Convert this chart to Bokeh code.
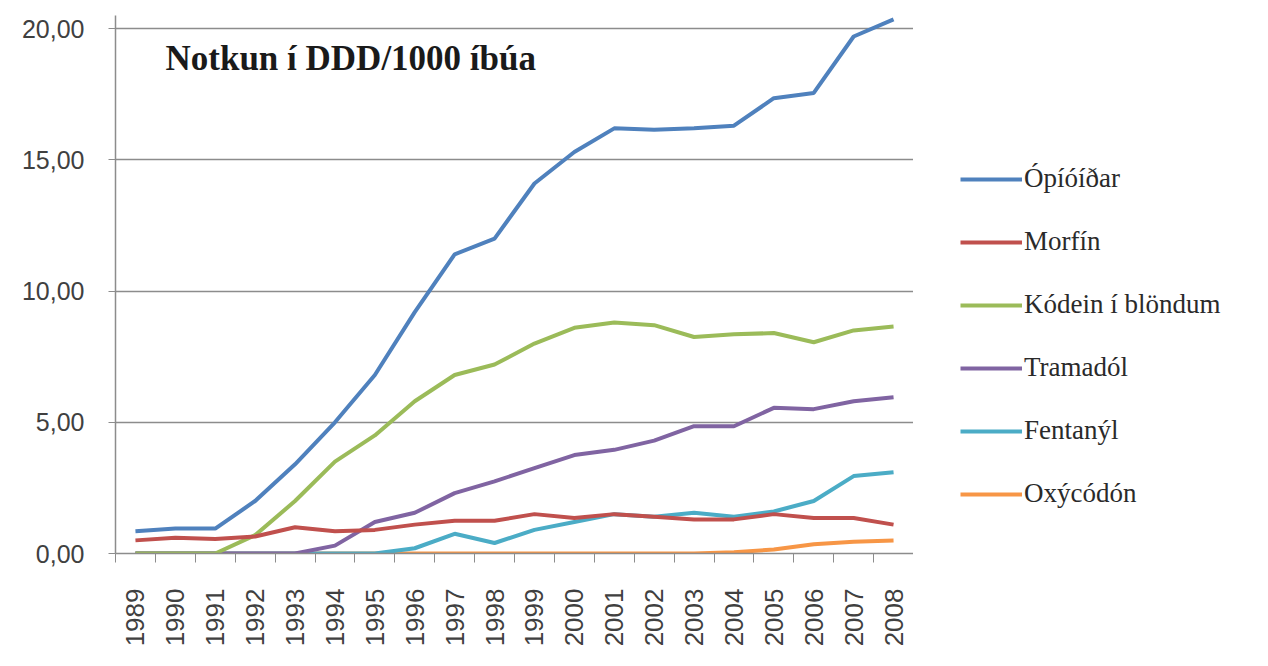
import math
from bokeh.plotting import figure
from bokeh.layouts import row
from bokeh.models import Range1d, FixedTicker, Legend, LegendItem, Label
from bokeh.embed import file_html
from bokeh.resources import INLINE

years = list(range(1989, 2009))
year_labels = [str(y) for y in years]

opioidar = [0.85, 0.95, 0.95, 2.0, 3.4, 5.0, 6.8, 9.2, 11.4, 12.0, 14.1, 15.3, 16.2, 16.15, 16.2, 16.3, 17.35, 17.55, 19.7, 20.35]
morfin = [0.5, 0.6, 0.55, 0.65, 1.0, 0.85, 0.9, 1.1, 1.25, 1.25, 1.5, 1.35, 1.5, 1.4, 1.3, 1.3, 1.5, 1.35, 1.35, 1.1]
kodein = [0.0, 0.0, 0.0, 0.7, 2.0, 3.5, 4.5, 5.8, 6.8, 7.2, 8.0, 8.6, 8.8, 8.7, 8.25, 8.35, 8.4, 8.05, 8.5, 8.65]
tramadol = [0.0, 0.0, 0.0, 0.0, 0.0, 0.3, 1.2, 1.55, 2.3, 2.75, 3.25, 3.75, 3.95, 4.3, 4.85, 4.85, 5.55, 5.5, 5.8, 5.95]
fentanyl = [0.0, 0.0, 0.0, 0.0, 0.0, 0.0, 0.0, 0.2, 0.75, 0.4, 0.9, 1.2, 1.5, 1.4, 1.55, 1.4, 1.6, 2.0, 2.95, 3.1]
oxycodon = [0.0, 0.0, 0.0, 0.0, 0.0, 0.0, 0.0, 0.0, 0.0, 0.0, 0.0, 0.0, 0.0, 0.0, 0.0, 0.05, 0.15, 0.35, 0.45, 0.5]

series_names = ["Ópíóíðar", "Morfín", "Kódein í blöndum", "Tramadól", "Fentanýl", "Oxýcódón"]
series_values = [opioidar, morfin, kodein, tramadol, fentanyl, oxycodon]
colors = ["#4F81BD", "#C0504D", "#9BBB59", "#8064A2", "#4BACC6", "#F79646"]

y_ticks = [0, 5, 10, 15, 20]
y_tick_labels = ["0,00", "5,00", "10,00", "15,00", "20,00"]
title_text = "Notkun í DDD/1000 íbúa"

H = 658
p = figure(width=913, height=H, output_backend="svg", toolbar_location=None,
           x_range=Range1d(years[0] - 0.5, years[-1] + 0.5), y_range=Range1d(0, 20.5))
p.min_border_left = 115
p.min_border_top = 15
p.min_border_bottom = H - 553
p.min_border_right = 0
p.outline_line_color = None
p.background_fill_color = "white"
p.border_fill_color = "white"

for name, vals, col in reversed(list(zip(series_names, series_values, colors))):
    p.line(years, vals, line_color=col, line_width=4)

p.xgrid.grid_line_color = None
p.ygrid.grid_line_color = "#8C8C8C"
p.ygrid.grid_line_width = 1.5
p.ygrid.ticker = FixedTicker(ticks=y_ticks)

p.yaxis.ticker = FixedTicker(ticks=y_ticks)
p.yaxis.major_label_overrides = {t: l for t, l in zip(y_ticks, y_tick_labels)}
p.yaxis.major_label_text_font = "Liberation Sans"
p.yaxis.major_label_text_font_size = "25px"
p.yaxis.major_label_text_color = "#404040"
p.yaxis.axis_line_color = "#8C8C8C"
p.yaxis.axis_line_width = 1.5
p.yaxis.major_tick_line_color = "#8C8C8C"
p.yaxis.major_tick_in = 0
p.yaxis.major_tick_out = 7
p.yaxis.minor_tick_line_color = None
p.yaxis.major_label_standoff = 24

p.xaxis.ticker = FixedTicker(ticks=years, minor_ticks=[y - 0.5 for y in years] + [years[-1] + 0.5])
p.xaxis.major_label_overrides = {y: l for y, l in zip(years, year_labels)}
p.xaxis.major_label_orientation = math.pi / 2
p.xaxis.major_label_text_font = "Liberation Sans"
p.xaxis.major_label_text_font_size = "26px"
p.xaxis.major_label_text_color = "#404040"
p.xaxis.major_tick_line_color = None
p.xaxis.major_tick_out = 0
p.xaxis.major_tick_in = 0
p.xaxis.minor_tick_line_color = "#8C8C8C"
p.xaxis.minor_tick_in = 0
p.xaxis.minor_tick_out = 9
p.xaxis.axis_line_color = "#8C8C8C"
p.xaxis.axis_line_width = 1.5
p.xaxis.major_label_standoff = 26

title = Label(x=50, y=476, x_units="screen", y_units="screen", text=title_text,
              text_font="Liberation Serif", text_font_style="bold", text_font_size="35px",
              text_color="#1a1a1a")
p.add_layout(title)

# legend panel as separate figure (dummy renderers lie outside its visible range)
pl = figure(width=1260 - 913, height=H, output_backend="svg", toolbar_location=None,
            x_axis_type=None, y_axis_type=None, x_range=Range1d(0, 1), y_range=Range1d(0, 1))
pl.min_border = 0
pl.outline_line_color = None
pl.grid.visible = False
items = []
for name, col in zip(series_names, colors):
    r = pl.line([5, 6], [5, 6], line_color=col, line_width=4)
    items.append(LegendItem(label=name, renderers=[r]))

legend = Legend(items=items, location=(47, 44), orientation="vertical")
legend.label_text_font = "Liberation Serif"
legend.label_text_font_size = "27px"
legend.label_text_color = "#2a2a2a"
legend.glyph_width = 62
legend.glyph_height = 30
legend.label_height = 30
legend.label_standoff = 2
legend.spacing = 32
legend.padding = 0
legend.margin = 0
legend.border_line_color = None
legend.background_fill_alpha = 0
legend.inactive_fill_alpha = 0
pl.add_layout(legend)

layout = row(p, pl, spacing=0)
open("out.html", "w").write(file_html(layout, INLINE))
